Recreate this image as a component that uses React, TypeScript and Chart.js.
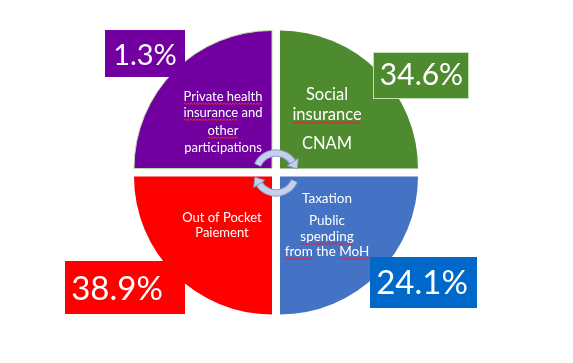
import React, { useEffect, useRef } from "react";
import { Chart, registerables } from "chart.js";

Chart.register(...registerables);

// Four funding sources, drawn as four equal quarters (as in the reference diagram)
const categories = [
  "Social insurance CNAM",
  "Taxation – Public spending from the MoH",
  "Out of Pocket Paiement",
  "Private health insurance and other participations",
];
const quarterSizes = [1, 1, 1, 1];
const percentLabels = ["34.6%", "24.1%", "38.9%", "1.3%"];
const sliceColors = ["#4E8A2E", "#4472C4", "#FF0000", "#7200A0"];
const boxColors = ["#4E8A2E", "#0068C8", "#FF0000", "#7200A0"];

// inner text lines; words wrapped in ~ get the red wavy spell-check underline
const innerTexts = [
  ["Social", "~insurance~", "", "CNAM"],
  ["Taxation", "Public", "~spending~", "~from~ the ~MoH~"],
  ["Out of Pocket", "Paiement"],
  ["~Private health~", "~insurance~ and", "~other~", "participations"],
];

const FONT = "Lato, 'Open Sans', sans-serif";

// layout relative to the pie centre (pixels)
const innerLayout = [
  { dx: 51, ys: [-73, -53, -38, -24], size: 16.5 },
  { dx: 51, ys: [30, 52, 68, 83], size: 13.5 },
  { dx: -54, ys: [49, 64], size: 13 },
  { dx: -53, ys: [-72, -56, -38, -21], size: 13 },
];
const boxLayout = [
  { x0: 97, y0: -120.5, x1: 193, y1: -73.5, tx: 145.5, ty: -98.5, size: 30, border: "#C5E0B4" },
  { x0: 94, y0: 84.5, x1: 201, y1: 135.5, tx: 146, ty: 110, size: 33, border: null },
  { x0: -211, y0: 88.5, x1: -91, y1: 141.5, tx: -159, ty: 116, size: 33, border: null },
  { x0: -171, y0: -142.5, x1: -91, y1: -95.5, tx: -131, ty: -117.5, size: 29, border: null },
];

function wavy(ctx: CanvasRenderingContext2D, x0: number, x1: number, y: number) {
  ctx.save();
  ctx.strokeStyle = "#E8203A";
  ctx.lineWidth = 1;
  ctx.beginPath();
  let up = true;
  ctx.moveTo(x0, y);
  for (let x = x0 + 1.5; x <= x1; x += 1.5) {
    ctx.lineTo(x, up ? y - 1.2 : y + 0.8);
    up = !up;
  }
  ctx.stroke();
  ctx.restore();
}

function drawLine(ctx: CanvasRenderingContext2D, raw: string, cx: number, y: number) {
  const plain = raw.replace(/~/g, "");
  const w = ctx.measureText(plain).width;
  const left = cx - w / 2;
  ctx.textAlign = "left";
  ctx.fillText(plain, left, y);
  const parts = raw.split("~");
  let acc = "";
  parts.forEach((p, i) => {
    if (i % 2 === 1 && p) {
      const a = left + ctx.measureText(acc).width;
      const b = a + ctx.measureText(p).width;
      wavy(ctx, a, b, y + 3.5);
    }
    acc += p;
  });
}

function drawArrow(ctx: CanvasRenderingContext2D, cx: number, cy: number, r: number, a0: number, a1: number) {
  ctx.save();
  ctx.lineCap = "butt";
  ctx.strokeStyle = "#8A9CC8";
  ctx.lineWidth = 7.5;
  ctx.beginPath();
  ctx.arc(cx, cy, r, a0, a1);
  ctx.stroke();
  ctx.strokeStyle = "#C6D0EB";
  ctx.lineWidth = 5.5;
  ctx.beginPath();
  ctx.arc(cx, cy, r, a0 + 0.02, a1);
  ctx.stroke();
  const hx = cx + Math.cos(a1) * r;
  const hy = cy + Math.sin(a1) * r;
  const tx = -Math.sin(a1);
  const ty = Math.cos(a1);
  const nx = Math.cos(a1);
  const ny = Math.sin(a1);
  const L = 8;
  const W = 6.5;
  ctx.beginPath();
  ctx.moveTo(hx + nx * W, hy + ny * W);
  ctx.lineTo(hx + tx * L, hy + ty * L);
  ctx.lineTo(hx - nx * W, hy - ny * W);
  ctx.closePath();
  ctx.fillStyle = "#C6D0EB";
  ctx.fill();
  ctx.strokeStyle = "#8A9CC8";
  ctx.lineWidth = 1;
  ctx.stroke();
  ctx.restore();
}

const overlayPlugin = {
  id: "overlay",
  afterDatasetsDraw(chart: any) {
    const ctx: CanvasRenderingContext2D = chart.ctx;
    const arc = chart.getDatasetMeta(0).data[0];
    const cx = arc.x;
    const cy = arc.y;
    ctx.save();
    ctx.fillStyle = "#FFFFFF";
    ctx.textBaseline = "alphabetic";
    innerTexts.forEach((lines, i) => {
      const lay = innerLayout[i];
      ctx.font = `${lay.size}px ${FONT}`;
      ctx.fillStyle = "#FFFFFF";
      lines.forEach((ln, j) => {
        if (ln) drawLine(ctx, ln, cx + lay.dx, cy + lay.ys[j]);
      });
    });
    drawArrow(ctx, cx, cy + 0.5, 20, (-157 * Math.PI) / 180, (-33 * Math.PI) / 180);
    drawArrow(ctx, cx, cy + 0.5, 20, (23 * Math.PI) / 180, (147 * Math.PI) / 180);
    percentLabels.forEach((lbl, i) => {
      const b = boxLayout[i];
      ctx.fillStyle = boxColors[i];
      ctx.fillRect(cx + b.x0, cy + b.y0, b.x1 - b.x0, b.y1 - b.y0);
      if (b.border) {
        ctx.strokeStyle = b.border;
        ctx.lineWidth = 1;
        ctx.strokeRect(cx + b.x0 + 0.5, cy + b.y0 + 0.5, b.x1 - b.x0 - 1, b.y1 - b.y0 - 1);
      }
      ctx.fillStyle = "#FFFFFF";
      ctx.font = `${b.size}px ${FONT}`;
      ctx.textAlign = "center";
      ctx.fillText(lbl, cx + b.tx, cy + b.ty + 0.358 * b.size);
    });
    ctx.restore();
  },
};

export default function App() {
  const ref = useRef<HTMLCanvasElement | null>(null);
  useEffect(() => {
    document.body.style.margin = "0";
    document.body.style.background = "#FFFFFF";
    const chart = new Chart(ref.current as HTMLCanvasElement, {
      type: "pie",
      data: {
        labels: categories,
        datasets: [
          {
            data: quarterSizes,
            backgroundColor: sliceColors,
            borderColor: ["#4E8A2E", "#4472C4", "#FF0000", "#B8D9A6"],
            borderWidth: [0, 0, 0, 1],
            offset: 22.6,
            hoverOffset: 22.6,
          },
        ],
      },
      options: {
        responsive: false,
        animation: false,
        events: [],
        radius: 138,
        layout: { padding: { left: 0, right: 21, top: 0, bottom: 18 } },
        plugins: {
          legend: { display: false },
          tooltip: { enabled: false },
        },
      } as any,
      plugins: [overlayPlugin],
    });
    return () => chart.destroy();
  }, []);
  return (
    <div style={{ position: "absolute", left: 0, top: 0, width: 573, height: 363, background: "#fff" }}>
      <canvas ref={ref} width={573} height={363} />
    </div>
  );
}
